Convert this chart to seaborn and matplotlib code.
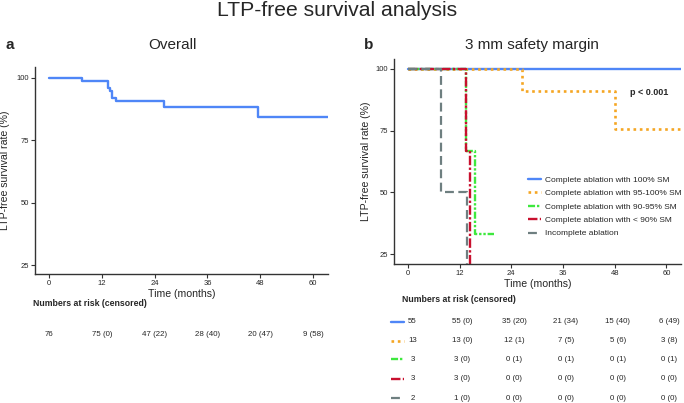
import numpy as np
import pandas as pd
import matplotlib
matplotlib.use("Agg")
import matplotlib.pyplot as plt
import matplotlib.transforms as mtransforms
import seaborn as sns

# Overall KM curve (time in months, survival in %)
overall_t = [0, 7.5, 13.3, 13.8, 14.2, 15.2, 26.1, 47.4, 63.4]
overall_s = [100, 98.7, 96.1, 94.7, 92.1, 90.8, 88.4, 84.3, 84.3]

# 3 mm safety margin groups
group_names = ["Complete ablation with 100% SM",
               "Complete ablation with 95-100% SM",
               "Complete ablation with 90-95% SM",
               "Complete ablation with < 90% SM",
               "Incomplete ablation"]
group_t = [[0, 63.4],
           [0, 26.4, 48.2, 63.4],
           [0, 13.6, 15.5, 20.0],
           [0, 13.6, 14.5, 14.5],
           [0, 7.7, 13.8, 13.8]]
group_s = [[100, 100],
           [100, 91.0, 75.8, 75.8],
           [100, 66.7, 33.3, 33.3],
           [100, 66.7, 0, 0],
           [100, 50.0, 0, 0]]
group_colors = ["#4f86f7", "#f5a623", "#3ee83e", "#c8102e", "#6e7f80"]
group_styles = ["-", (0, (1, 1.4)), (0, (3, 0.8, 1, 0.8, 1, 0.8)),
                (0, (4, 1, 1, 1)), (0, (4, 2))]
group_widths = [1.7, 1.9, 1.7, 1.7, 1.6]

time_ticks = [0, 12, 24, 36, 48, 60]
overall_risk = ["76", "75 (0)", "47 (22)", "28 (40)", "20 (47)", "9 (58)"]
group_risk = [["55", "55 (0)", "35 (20)", "21 (34)", "15 (40)", "6 (49)"],
              ["13", "13 (0)", "12 (1)", "7 (5)", "5 (6)", "3 (8)"],
              ["3", "3 (0)", "0 (1)", "0 (1)", "0 (1)", "0 (1)"],
              ["3", "3 (0)", "0 (0)", "0 (0)", "0 (0)", "0 (0)"],
              ["2", "1 (0)", "0 (0)", "0 (0)", "0 (0)", "0 (0)"]]

sns.set_style("ticks")
plt.rcParams['font.family'] = ['Liberation Sans', 'DejaVu Sans']

W, H = 684, 403
fig = plt.figure(figsize=(W / 100, H / 100), dpi=100)


def px_axes(x0, y_top, x1, y_bot):
    return fig.add_axes([x0 / W, 1 - y_bot / H, (x1 - x0) / W, (y_bot - y_top) / H])


def style_axes(ax, ylim, ylab_x):
    ax.set_xlim(-3.2, 63.4)
    ax.set_ylim(*ylim)
    ax.set_xticks(time_ticks)
    ax.set_yticks([25, 50, 75, 100])
    ax.tick_params(labelsize=5.5, length=3, width=0.8, pad=1.5, color="#333333")
    for sp in ["left", "bottom"]:
        ax.spines[sp].set_linewidth(1.0)
        ax.spines[sp].set_color("#333333")
    sns.despine(ax=ax)
    ax.set_xlabel("Time (months)", fontsize=7.6, labelpad=1)
    ax.set_ylabel("LTP-free survival rate (%)", fontsize=7.6)
    ax.yaxis.set_label_coords(ylab_x, 0.5)


fig.text(337 / W, 1 - 11 / H, "LTP-free survival analysis", fontsize=15.2,
         ha="center", va="center")

# ---- panel a
ax1 = px_axes(35, 67, 328, 274)
df1 = pd.DataFrame({"t": overall_t, "s": overall_s})
sns.lineplot(data=df1, x="t", y="s", ax=ax1, drawstyle="steps-post",
             estimator=None, sort=False, color="#4f86f7", linewidth=1.7)
style_axes(ax1, (21.4, 104.4), -0.085)
fig.text(172 / W, 1 - 45 / H, "Overall", fontsize=11, ha="center", va="center")
fig.text(5 / W, 1 - 45 / H, "a", fontsize=11, fontweight="bold", va="center")

tr1 = mtransforms.blended_transform_factory(ax1.transData, fig.transFigure)
fig.text(33 / W, 1 - 304 / H, "Numbers at risk (censored)", fontsize=6.3,
         fontweight="bold", va="center")
for t, lab in zip(time_ticks, overall_risk):
    ax1.text(t, 1 - 334 / H, lab, transform=tr1, fontsize=5.7,
             ha="center", va="center", clip_on=False)

# ---- panel b
ax2 = px_axes(394, 59.3, 681, 264)
for name, t, s, c, ls, lw in zip(group_names, group_t, group_s,
                                 group_colors, group_styles, group_widths):
    d = pd.DataFrame({"t": t, "s": s})
    sns.lineplot(data=d, x="t", y="s", ax=ax2, drawstyle="steps-post",
                 estimator=None, sort=False, color=c, linewidth=lw,
                 linestyle=ls, label=name)
style_axes(ax2, (21, 103.9), -0.08)
fig.text(532 / W, 1 - 45 / H, "3 mm safety margin", fontsize=11,
         ha="center", va="center")
fig.text(364 / W, 1 - 45 / H, "b", fontsize=11, fontweight="bold", va="center")
ax2.text(56, 90.3, "p < 0.001", fontsize=6.5, fontweight="bold",
         ha="center", va="center")
ax2.legend(loc="upper left", bbox_to_anchor=(0.466, 0.43), frameon=False,
           fontsize=6.0, handlelength=1.6, handletextpad=0.5,
           labelspacing=0.67, borderpad=0, borderaxespad=0)

tr2 = mtransforms.blended_transform_factory(ax2.transData, fig.transFigure)
fig.text(402 / W, 1 - 300 / H, "Numbers at risk (censored)", fontsize=6.3,
         fontweight="bold", va="center")
row_y = [321.7, 340.7, 359.3, 378.7, 398.3]
for row, y, c, ls, lw in zip(group_risk, row_y, group_colors, group_styles,
                             group_widths):
    yf = 1 - y / H
    ax2.plot([-3.8, -0.8], [yf, yf], transform=tr2, color=c, linestyle=ls,
             linewidth=lw, clip_on=False)
    for i, (t, lab) in enumerate(zip(time_ticks, row)):
        ax2.text(t + (1.1 if i == 0 else 0.7), yf, lab, transform=tr2,
                 fontsize=5.7, ha="center", va="center", clip_on=False)

fig.savefig("out.png", dpi=100)
